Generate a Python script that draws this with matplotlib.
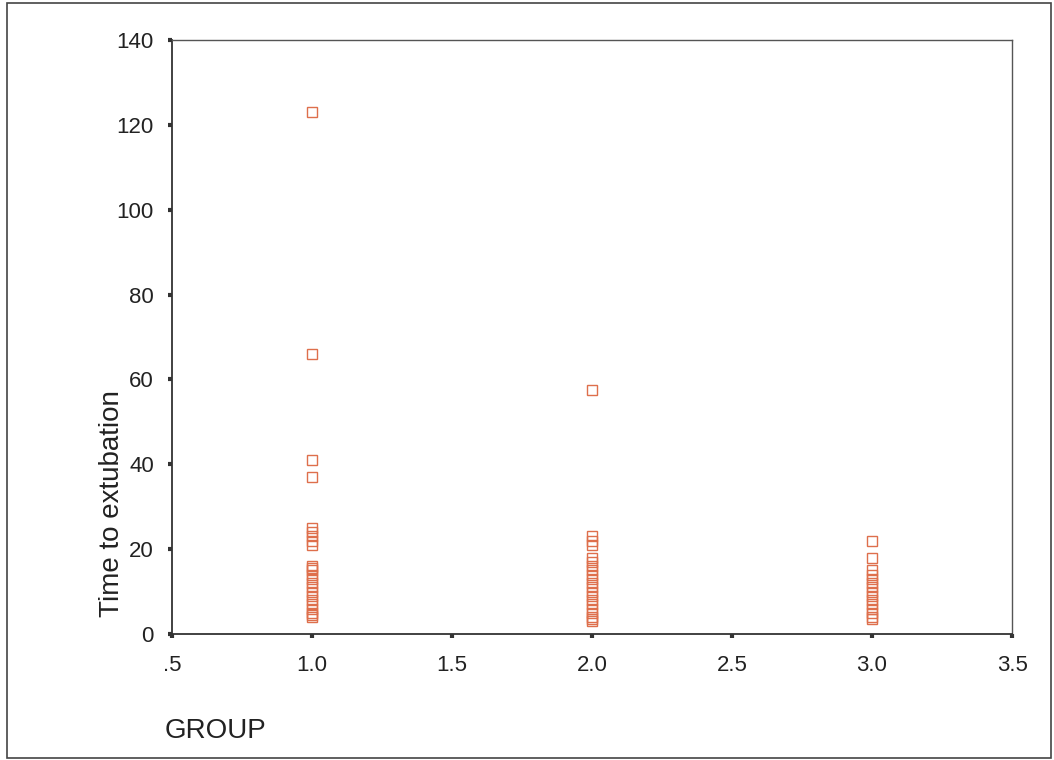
import matplotlib
matplotlib.use("Agg")
import matplotlib.pyplot as plt
from matplotlib.patches import Rectangle

plt.rcParams["font.family"] = ["Liberation Sans", "DejaVu Sans"]

# Time to extubation by group
group1 = [123, 66, 41, 37, 25, 24, 23, 22, 21, 16, 15.5, 15, 14, 13, 12, 11, 10, 9, 8, 7, 6, 5, 4.5, 4]
group2 = [57.5, 23, 22, 21, 18, 17, 16, 15, 14, 13, 12, 11, 10, 9, 8, 7, 6, 5, 4, 3.5, 3]
group3 = [22, 18, 15, 14, 13, 12, 11, 10, 9, 8, 7, 6, 5, 4, 3.5]
groups = [1.0, 2.0, 3.0]

x_ticks = [0.5, 1.0, 1.5, 2.0, 2.5, 3.0, 3.5]
x_labels = [".5", "1.0", "1.5", "2.0", "2.5", "3.0", "3.5"]
y_ticks = [0, 20, 40, 60, 80, 100, 120, 140]

fig = plt.figure(figsize=(10.54, 7.6), dpi=100)
ax = fig.add_axes([0.1632, 0.1658, 0.797, 0.7816])

for g, vals in zip(groups, [group1, group2, group3]):
    ax.plot([g] * len(vals), vals, linestyle="none", marker="s", markersize=6.5,
            markerfacecolor="none", markeredgecolor="#de6f4c", markeredgewidth=1.0)

ax.set_xlim(0.5, 3.5)
ax.set_ylim(0, 140)
ax.set_xticks(x_ticks)
ax.set_xticklabels(x_labels)
ax.set_yticks(y_ticks)
ax.tick_params(direction="out", length=3, width=3, color="#333333", labelsize=16,
               labelcolor="#222222")
ax.tick_params(axis="x", pad=12)
ax.tick_params(axis="y", pad=10)

for side in ["left", "bottom"]:
    ax.spines[side].set_color("#333333")
    ax.spines[side].set_linewidth(1.3)
for side in ["top", "right"]:
    ax.spines[side].set_color("#555555")
    ax.spines[side].set_linewidth(1.0)

fig.text(112 / 1054, (760 - 617) / 760, "Time to extubation", rotation=90,
         ha="center", va="bottom", fontsize=20, color="#222222")
fig.text(165 / 1054, (760 - 731) / 760, "GROUP", ha="left", va="center",
         fontsize=20, color="#222222")

# outer frame
fig.patches.append(Rectangle((7 / 1054, 2 / 760), 1044 / 1054, 755 / 760,
                             transform=fig.transFigure, fill=False,
                             edgecolor="#444444", linewidth=1.2))

fig.savefig("out.png", dpi=100)
